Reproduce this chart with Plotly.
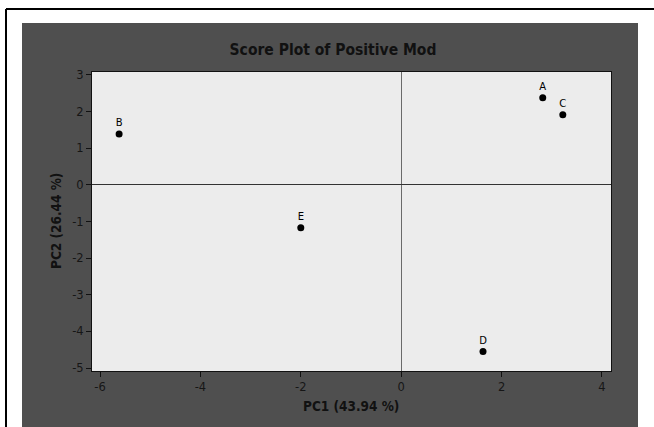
import plotly.graph_objects as go

labels = ["A", "B", "C", "D", "E"]
pc1 = [2.82, -5.62, 3.22, 1.63, -2.0]
pc2 = [2.38, 1.39, 1.91, -4.55, -1.17]
x_ticks = [-6, -4, -2, 0, 2, 4]
x_tick_text = ["-6", "-4", "-2", "0", "2", "4"]
y_ticks = [3, 2, 1, 0, -1, -2, -3, -4, -5]
y_tick_text = ["3", "2", "1", "0", "-1", "-2", "-3", "-4", "-5"]

W, H = 654, 427
L, R, T, B = 92, 611, 72, 371

def px(x):
    return (x - L) / (R - L)

def py(y):
    return (B - y) / (B - T)

fig = go.Figure()
fig.add_trace(go.Scatter(
    x=pc1, y=pc2, mode="markers+text", text=labels, textposition="top center",
    marker=dict(color="black", size=7),
    textfont=dict(family="DejaVu Sans", size=10, color="black"),
    cliponaxis=False, showlegend=False,
))

font = "DejaVu Sans Condensed, DejaVu Sans"
tickfont = dict(family="DejaVu Sans", size=11.5, color="#161616")
fig.update_layout(
    width=W, height=H,
    margin=dict(l=L, r=W - R, t=T, b=H - B),
    paper_bgcolor="white",
    plot_bgcolor="#ececec",
    title=dict(text="<b>Score Plot of Positive Mod</b>", x=333 / W, xanchor="center",
               y=1 - 50 / H, yanchor="middle",
               font=dict(family=font, size=15.5, color="#111")),
    xaxis=dict(range=[-6.16, 4.18], tickvals=x_ticks, ticktext=x_tick_text,
               ticks="outside", ticklen=5, tickcolor="#111", tickfont=tickfont,
               showgrid=False, zeroline=True, zerolinecolor="#6a6a6a", zerolinewidth=1,
               showline=True, linecolor="#111", linewidth=1, mirror=True),
    yaxis=dict(range=[-5.08, 3.08], tickvals=y_ticks, ticktext=y_tick_text,
               ticks="outside", ticklen=5, tickcolor="#111", tickfont=tickfont,
               showgrid=False, zeroline=True, zerolinecolor="#333", zerolinewidth=1,
               showline=True, linecolor="#111", linewidth=1, mirror=True),
    annotations=[
        dict(text="<b>PC1 (43.94 %)</b>", xref="paper", yref="paper",
             x=px(351), y=py(406), xanchor="center", yanchor="middle",
             showarrow=False, font=dict(family=font, size=13.5, color="#111")),
        dict(text="<b>PC2 (26.44 %)</b>", xref="paper", yref="paper",
             x=px(56), y=py(221), xanchor="center", yanchor="middle", textangle=-90,
             showarrow=False, font=dict(family=font, size=13.5, color="#111")),
    ],
    shapes=[
        dict(type="rect", xref="paper", yref="paper", layer="below",
             x0=px(22), x1=px(638), y0=py(430), y1=py(23),
             fillcolor="#4f4f4f", line=dict(width=0)),
        dict(type="rect", xref="x domain", yref="y domain", layer="below",
             x0=0, x1=1, y0=0, y1=1,
             fillcolor="#ececec", line=dict(width=0)),
        dict(type="line", xref="paper", yref="paper",
             x0=px(6), x1=px(6), y0=py(430), y1=py(9),
             line=dict(color="black", width=2)),
        dict(type="line", xref="paper", yref="paper",
             x0=px(6), x1=px(656), y0=py(9), y1=py(9),
             line=dict(color="black", width=2)),
    ],
)
fig.write_html("out.html", post_script="document.body.style.margin='0';",
               config={"displayModeBar": False})
